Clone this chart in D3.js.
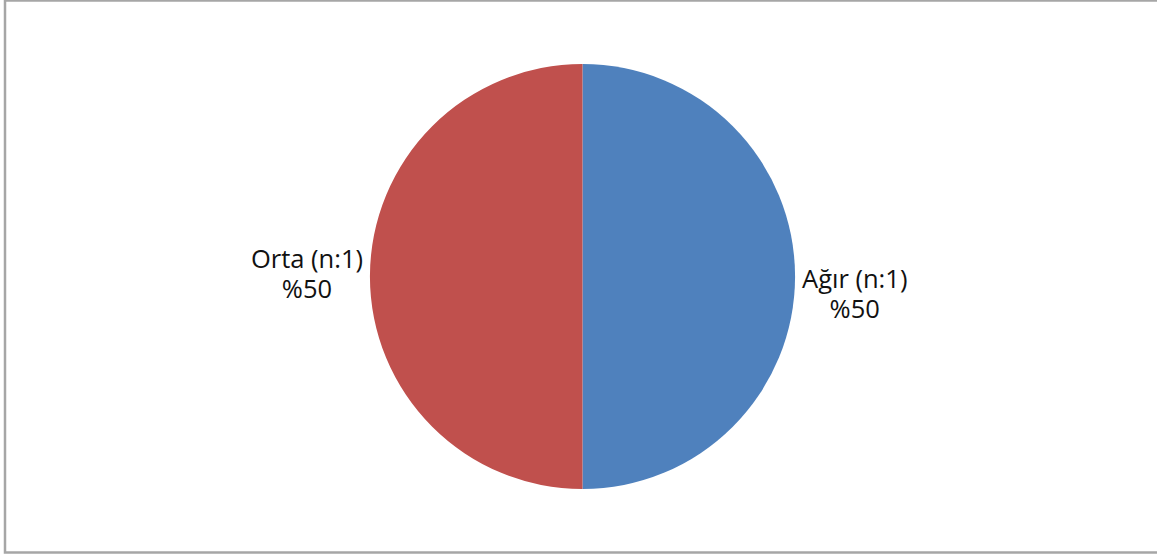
<!DOCTYPE html>
<html>
<head>
<meta charset="utf-8">
<script src="https://cdn.jsdelivr.net/npm/d3@7"></script>
<style>
  html, body { margin: 0; padding: 0; background: #fff; }
  svg { display: block; }
</style>
</head>
<body>
<svg id="chart" width="1157" height="556"></svg>
<script>
// Severity groups and their counts
const categories = ["Ağır", "Orta"];
const counts = [1, 1];
const colors = ["#4F81BD", "#C0504D"];

const W = 1157, H = 556;
const svg = d3.select("#chart");

// Chart frame
svg.append("rect")
  .attr("x", 5).attr("y", 0.5)
  .attr("width", W + 10).attr("height", 552)
  .attr("fill", "#fff")
  .attr("stroke", "#a6a6a6")
  .attr("stroke-width", 2.5);

const cx = 582.5, cy = 276.5, r = 212.5;
const total = d3.sum(counts);
const data = categories.map((c, i) => ({ name: c, value: counts[i], color: colors[i] }));

const pie = d3.pie().sort(null).value(d => d.value);
const arc = d3.arc().innerRadius(0).outerRadius(r);
const arcs = pie(data);

const g = svg.append("g").attr("transform", `translate(${cx},${cy})`);
g.selectAll("path")
  .data(arcs)
  .join("path")
  .attr("d", arc)
  .attr("fill", d => d.data.color);

// Two-line labels placed just outside the slice edge, on the slice's side
const gap = 7, lineH = 29.5;
const lab = g.selectAll("text.lbl")
  .data(arcs)
  .join("text")
  .attr("class", "lbl")
  .attr("text-anchor", "middle")
  .attr("font-family", "'Open Sans', sans-serif")
  .attr("font-size", 25.5)
  .attr("fill", "#111");
lab.append("tspan").attr("class", "l1").attr("x", 0).attr("y", 0)
  .text(d => `${d.data.name} (n:${d.data.value})`);
lab.append("tspan").attr("x", 0).attr("y", lineH)
  .text(d => "%" + Math.round(d.data.value / total * 100));

lab.attr("transform", function(d) {
  const mid = (d.startAngle + d.endAngle) / 2;
  const side = Math.sin(mid) >= 0 ? 1 : -1;
  const w = d3.select(this).select(".l1").node().getComputedTextLength();
  const x = side * (r + gap + w / 2);
  const y = side > 0 ? 11.5 : -8.5;
  return `translate(${x},${y})`;
});
</script>
</body>
</html>
